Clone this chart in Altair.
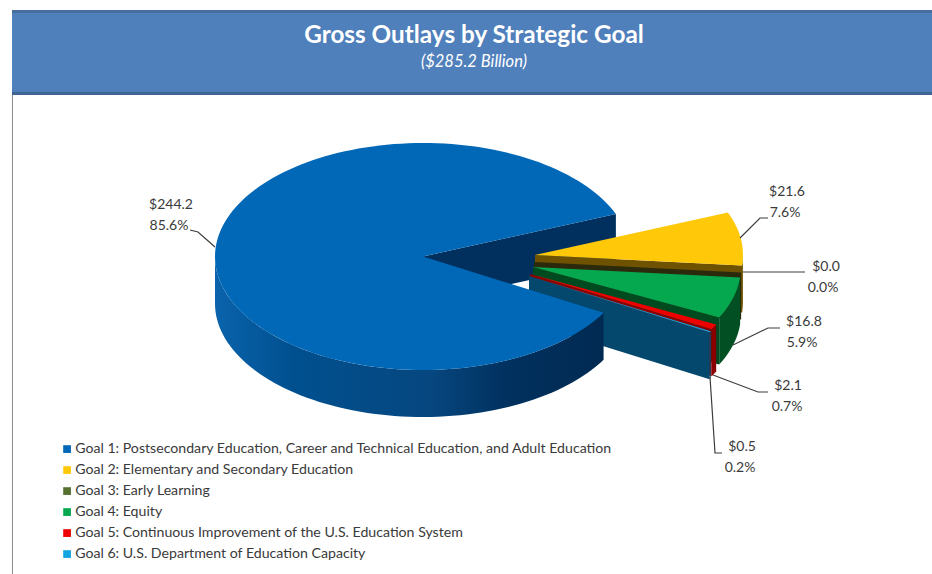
import math
import altair as alt
import pandas as pd

# Chart content
GOALS = [
    "Goal 1: Postsecondary Education, Career and Technical Education, and Adult Education",
    "Goal 2: Elementary and Secondary Education",
    "Goal 3: Early Learning",
    "Goal 4: Equity",
    "Goal 5: Continuous Improvement of the U.S. Education System",
    "Goal 6: U.S. Department of Education Capacity",
]
OUTLAYS = [244.2, 21.6, 0.0, 16.8, 2.1, 0.5]
PERCENT_LABELS = ["85.6%", "7.6%", "0.0%", "5.9%", "0.7%", "0.2%"]
DOLLAR_LABELS = ["$244.2", "$21.6", "$0.0", "$16.8", "$2.1", "$0.5"]
TOP_COLORS = ["#0068b7", "#ffc90a", "#56702f", "#05a84f", "#ee0000", "#12a5e0"]
FACE_COLORS = ["#01305e", "#6e5200", "#2b2a0c", "#004a20", "#8a0000", "#04486e"]
RIM_COLORS = ["#01305e", "#6e5200", "#2b2a0c", "#014f22", "#8a0000", "#00537d"]

# Layout of the tilted pie: centre of each slice after its explosion, in canvas units
CENTRE_X = [423, 535, 534, 533, 530, 529]
CENTRE_Y = [256.5, 255, 262, 267, 274, 276]
RX, RY, DEPTH = 208, 113.5, 47
FIRST_SMALL_SLICE_ANGLE = 22.0  # elliptical parameter where Goal 2 begins, degrees

xs = alt.Scale(domain=[0, 932], nice=False, zero=False)
ys = alt.Scale(domain=[574, 0], nice=False, zero=False)
X = alt.X("x:Q", scale=xs, axis=None)
Y = alt.Y("y:Q", scale=ys, axis=None)

LEGEND = alt.Legend(
    title=None, orient="none", legendX=60, legendY=442,
    symbolType="square", symbolSize=60, symbolStrokeWidth=0,
    labelFont="Lato", labelFontSize=14.15, labelColor="#3a3a3a", labelLimit=800,
    labelOffset=1, rowPadding=6, symbolOffset=0,
)


def rim_point(i, deg, drop=0):
    t = math.radians(deg)
    return CENTRE_X[i] + RX * math.cos(t), CENTRE_Y[i] - RY * math.sin(t) + drop


def sweep(i, start, end, drop=0, step=2.0):
    n = max(1, int(abs(end - start) / step))
    return [rim_point(i, start + (end - start) * k / n, drop) for k in range(n + 1)]


def frame(pts):
    return pd.DataFrame({"x": [p[0] for p in pts], "y": [p[1] for p in pts],
                         "i": range(len(pts))})


def poly(pts, fill):
    return alt.Chart(frame(pts)).mark_line(fill=fill, strokeWidth=0, strokeOpacity=0).encode(
        x=X, y=Y, order=alt.Order("i:Q"))


def top(i, start, end):
    d = frame([(CENTRE_X[i], CENTRE_Y[i])] + sweep(i, start, end))
    d["goal"] = GOALS[i]
    return alt.Chart(d).mark_line(strokeWidth=0, strokeOpacity=0).encode(
        x=X, y=Y, order=alt.Order("i:Q"),
        fill=alt.Fill("goal:N", scale=alt.Scale(domain=GOALS, range=TOP_COLORS),
                      sort=GOALS, legend=LEGEND))


def cut_face(i, deg):
    cx, cy = CENTRE_X[i], CENTRE_Y[i]
    x, y = rim_point(i, deg)
    return poly([(cx, cy), (x, y), (x, y + DEPTH), (cx, cy + DEPTH)], FACE_COLORS[i])


def rim(i, start, end, fill):
    return poly(sweep(i, start, end) + sweep(i, end, start, DEPTH), fill)


def text(rows, size, color, weight="normal", style="normal", font="Lato"):
    d = pd.DataFrame(rows, columns=["x", "y", "t"])
    return alt.Chart(d).mark_text(font=font, fontSize=size, color=color, fontWeight=weight,
                                  fontStyle=style, align="center", baseline="middle").encode(
        x=X, y=Y, text="t:N")


def leader(pts):
    return alt.Chart(frame(pts)).mark_line(color="#3d3d3d", strokeWidth=1.2).encode(
        x=X, y=Y, order=alt.Order("i:Q"))


# Slice angles come straight from the outlay values, clockwise from Goal 2
total = sum(OUTLAYS)
edge = {}
a = FIRST_SMALL_SLICE_ANGLE
for g in [1, 2, 3, 4, 5, 0]:
    b = a - OUTLAYS[g] / total * 360
    edge[g] = (a, b)
    a = b
# Goal 1 reads from the end of Goal 6 round to the start of Goal 2
g1_start, g1_end = edge[0]

layers = []

# Header band
layers += [
    poly([(12, 10), (932, 10), (932, 95), (12, 95)], "#4f80bb"),
    poly([(12, 10), (932, 10), (932, 13), (12, 13)], "#456f9f"),
    poly([(12, 92), (932, 92), (932, 95), (12, 95)], "#3e6690"),
    poly([(12, 95), (13, 95), (13, 574), (12, 574)], "#8c8c8c"),
]

# Far cut face of the large slice sits behind everything else
layers.append(cut_face(0, g1_end + 360))

# Exploded slices, painted back to front
for g in [1, 2, 3, 4, 5]:
    start, end = edge[g]
    if end < 0:
        layers.append(rim(g, min(start, 0), end, RIM_COLORS[g]))
    layers.append(cut_face(g, end))
    layers.append(top(g, start, end))

# Front of the large slice, its wall shaded left to right
wall = alt.Gradient(
    gradient="linear", x1=0, x2=1, y1=0, y2=0,
    stops=[
        alt.GradientStop(offset=0.0, color="#0a63ac"),
        alt.GradientStop(offset=0.2, color="#00508f"),
        alt.GradientStop(offset=0.55, color="#064780"),
        alt.GradientStop(offset=0.75, color="#01315f"),
        alt.GradientStop(offset=1.0, color="#012a52"),
    ],
)
layers.append(rim(0, -180, g1_start, wall))
layers.append(top(0, g1_start, g1_end))

# Leader lines
for path in [
    [(215, 247), (198, 232), (190, 230)],
    [(740, 238), (760, 218), (768, 218)],
    [(743, 272), (805, 272)],
    [(733, 345), (768, 328), (780, 328)],
    [(713, 375), (758, 392), (768, 392)],
    [(710, 377), (715, 453), (722, 453)],
]:
    layers.append(leader(path))

# Value labels
label_pos = [(171, 205, 169, 226), (787, 192, 785, 213), (826, 267, 823, 288),
             (804, 322, 802, 343), (788, 386, 787, 407), (742, 447, 740, 468)]
rows = []
for (x1, y1, x2, y2), d, p in zip(label_pos, DOLLAR_LABELS, PERCENT_LABELS):
    rows += [(x1, y1, d), (x2, y2, p)]
layers.append(text(rows, 14, "#3a3a3a"))

# Titles
layers.append(text([(474, 35.5, "Gross Outlays by Strategic Goal")], 24.3, "#ffffff", weight="bold"))
layers.append(text([(474, 62, "($285.2 Billion)")], 16.5, "#ffffff", style="italic"))

chart = alt.layer(*layers).properties(
    width=932, height=574, padding=0, autosize="none",
    background="#ffffff",
).configure_view(stroke=None)

chart.save("out.html", embed_options={"renderer": "svg", "actions": False})
